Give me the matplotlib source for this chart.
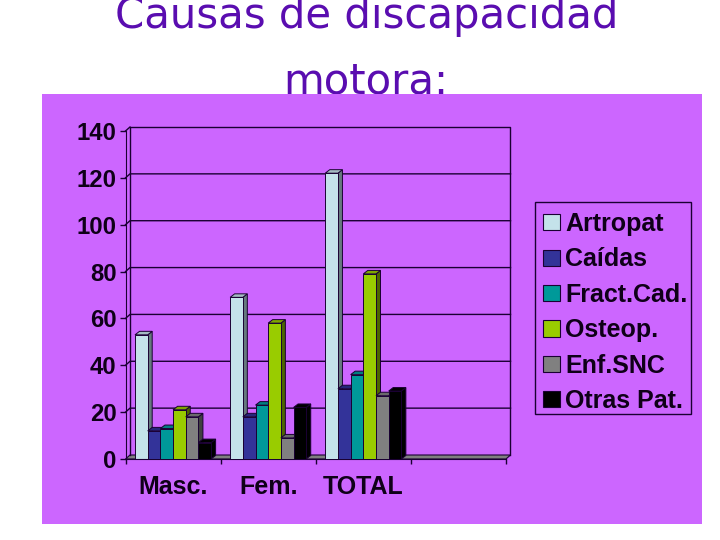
import matplotlib
matplotlib.use('Agg')
import matplotlib.pyplot as plt
from matplotlib.patches import Patch, Polygon, Rectangle

# Data
categories = ['Masc.', 'Fem.', 'TOTAL', '']
series = ['Artropat', 'Caídas', 'Fract.Cad.', 'Osteop.', 'Enf.SNC', 'Otras Pat.']
artropat = [53, 69, 122, 0]
caidas = [12, 18, 30, 0]
fract_cad = [13, 23, 36, 0]
osteop = [21, 58, 79, 0]
enf_snc = [18, 9, 27, 0]
otras_pat = [7, 22, 29, 0]
values = [artropat, caidas, fract_cad, osteop, enf_snc, otras_pat]
y_ticks = [0, 20, 40, 60, 80, 100, 120, 140]

# front, top, side shades per series
colors = ['#C4E2EA', '#333399', '#009999', '#99CC00', '#808080', '#000000']
tops = ['#A4BCC2', '#26267A', '#007F80', '#7FA600', '#6A6A6A', '#000000']
sides = ['#66797E', '#1A1A4D', '#004D4D', '#4D6600', '#404040', '#000000']

BG = '#CC66FF'
DARK = '#1A0033'
TEXT = '#0F0018'
TITLE = '#5A0DB0'
W, H = 720, 540
DX, DY = 4.5, 4.0  # wall depth in pixels

fig = plt.figure(figsize=(7.2, 5.4), dpi=100, facecolor='white')

# Title sits behind the purple panel
fig.text(366.5 / W, 1 - 28 / H, 'Causas de discapacidad', ha='center', va='baseline',
         fontsize=30.2, color=TITLE, family='DejaVu Sans', zorder=1)
fig.text(365.5 / W, 1 - 93 / H, 'motora:', ha='center', va='baseline',
         fontsize=30.2, color=TITLE, family='DejaVu Sans', zorder=1)
fig.add_artist(Rectangle((42 / W, 1 - 524 / H), 660 / W, 430 / H, transform=fig.transFigure,
                         facecolor=BG, edgecolor='none', zorder=2))

# Axes box is the front plane of the 3D chart
left, right, top, bottom = 125.5, 506.0, 131.0, 459.0
ax = fig.add_axes([left / W, 1 - bottom / H, (right - left) / W, (bottom - top) / H], zorder=3)
ax.patch.set_visible(False)
ax.set_xlim(0, len(categories))
ax.set_ylim(0, 140)
xpx = len(categories) / (right - left)
ypx = 140 / (bottom - top)
dx, dy = DX * xpx, DY * ypx
xmax = len(categories)

# Floor and walls
ax.add_patch(Polygon([(0, 0), (dx, dy), (xmax + dx, dy), (xmax, 0)], closed=True, facecolor='#808080',
                     edgecolor=DARK, linewidth=0.8, clip_on=False, zorder=1))
ax.plot([dx, dx, xmax + dx, xmax + dx], [dy, 140 + dy, 140 + dy, dy], color=DARK, lw=1, clip_on=False, zorder=1)
ax.plot([0, dx], [140, 140 + dy], color=DARK, lw=1, clip_on=False, zorder=1)
for t in y_ticks[1:-1]:
    ax.plot([0, dx, xmax + dx], [t, t + dy, t + dy], color=DARK, lw=1, clip_on=False, zorder=1)

# Bars
n = len(series)
width = 1 / (n + 1.5)
bar_dx, bar_dy = 4.5 * xpx, 3.5 * ypx
for i in range(n):
    for j in range(len(categories)):
        v = values[i][j]
        if v == 0:
            continue
        x0 = j + width * (0.75 + i)
        z = 2 + j * 10 + i
        ax.bar(x0, v, width, align='edge', color=colors[i], edgecolor=DARK, linewidth=0.7, zorder=z)
        ax.add_patch(Polygon([(x0 + width, 0), (x0 + width + bar_dx, bar_dy), (x0 + width + bar_dx, v + bar_dy),
                              (x0 + width, v)], closed=True, facecolor=sides[i], edgecolor=DARK,
                             linewidth=0.7, zorder=z - 0.5))
        ax.add_patch(Polygon([(x0, v), (x0 + bar_dx, v + bar_dy), (x0 + width + bar_dx, v + bar_dy),
                              (x0 + width, v)], closed=True, facecolor=tops[i], edgecolor=DARK,
                             linewidth=0.7, zorder=z - 0.5))

# Axes and labels
for name in ['top', 'right']:
    ax.spines[name].set_visible(False)
for name in ['left', 'bottom']:
    ax.spines[name].set_color(DARK)
ax.set_yticks(y_ticks)
ax.set_xticks(range(len(categories) + 1))
ax.set_xticklabels([])
ax.tick_params(axis='y', length=4, width=1, color=DARK, pad=2.5, labelcolor=TEXT)
ax.tick_params(axis='x', length=3.5, width=1, color=DARK)
for label in ax.get_yticklabels():
    label.set_fontfamily('Liberation Sans')
    label.set_fontweight('bold')
    label.set_fontsize(17.2)
for j, name in enumerate(categories):
    ax.annotate(name, (j + 0.5, 0), xytext=(0, -20.5), textcoords='offset points', ha='center', va='center',
                fontsize=18, fontweight='bold', family='Liberation Sans', color=TEXT, annotation_clip=False)

# Legend box is drawn apart so the rows can sit where they do in the original
fig.add_artist(Rectangle((535 / W, 1 - 414 / H), 156 / W, 212 / H, transform=fig.transFigure,
                         facecolor=BG, edgecolor=DARK, linewidth=1, zorder=4))
handles = [Patch(facecolor=c, edgecolor=DARK, linewidth=0.8) for c in colors]
leg = fig.legend(handles, series, loc='upper left', bbox_to_anchor=(543 / W, 1 - 212 / H), borderaxespad=0,
                 frameon=False, prop={'family': 'Liberation Sans', 'weight': 'bold', 'size': 18},
                 handlelength=0.68, handleheight=0.62, handletextpad=0.2, labelspacing=0.456,
                 borderpad=0, labelcolor=TEXT)
leg.set_zorder(5)

plt.savefig('out.png', dpi=100)
